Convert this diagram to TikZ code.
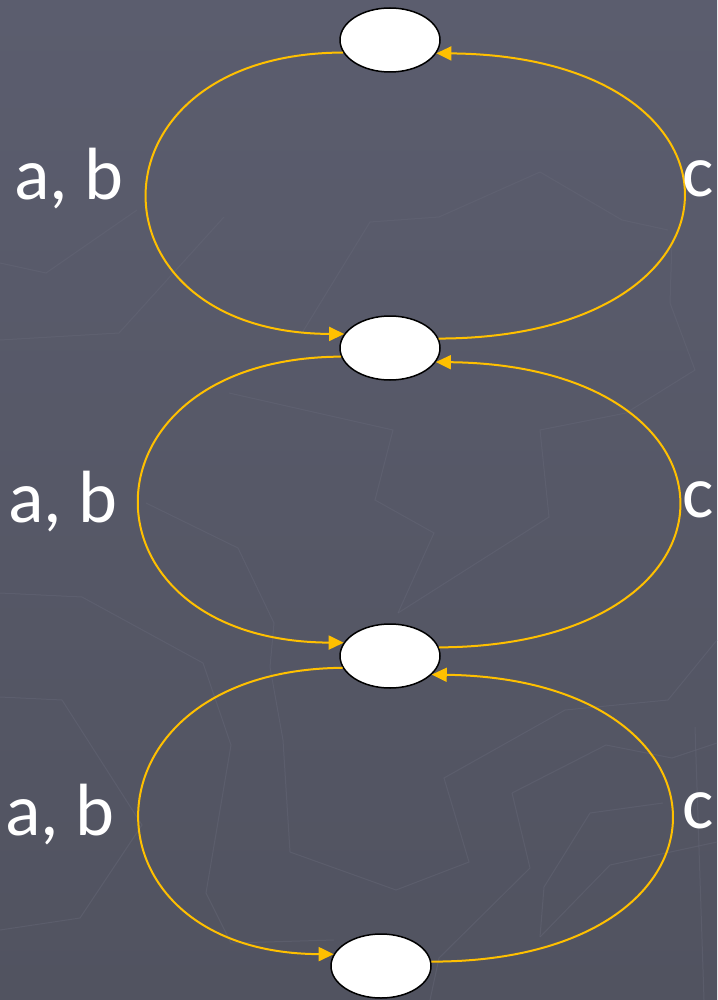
\documentclass[tikz,border=0pt]{standalone}
\usepackage{fontspec}
\setmainfont{Carlito}
\usetikzlibrary{shapes.geometric,arrows.meta}
\definecolor{bgtop}{HTML}{5B5D6E}
\definecolor{bgbot}{HTML}{515360}
\definecolor{gold}{HTML}{FFC000}
\definecolor{faint}{HTML}{666878}
\tikzset{
  state/.style={ellipse,draw=black,fill=white,line width=1.5pt,minimum width=100pt,minimum height=64pt,inner sep=0pt},
  trans/.style={draw=gold,line width=2pt,-{Triangle[length=15pt,width=14pt]}},
  lbl/.style={text=white,font=\fontsize{74}{80}\selectfont,inner sep=0pt},
  deco/.style={draw=faint,line width=1pt,opacity=0.45}
}
\begin{document}
\begin{tikzpicture}[x=1pt,y=-1pt]
\useasboundingbox (0,0) rectangle (717,1000);
\shade[top color=bgtop,bottom color=bgbot] (0,0) rectangle (717,1000);
% faint background polylines
\draw[deco] (540,172) -- (622,220) -- (668,230);
\draw[deco] (540,172) -- (439,217) -- (370,222) -- (302,333);
\draw[deco] (224,217) -- (119,333) -- (0,340);
\draw[deco] (137,210) -- (46,273) -- (0,263);
\draw[deco] (672,240) -- (670,303) -- (695,370) -- (626,413) -- (540,430) -- (549,517) -- (398,613);
\draw[deco] (229,393) -- (393,430) -- (375,500) -- (434,533) -- (398,613);
\draw[deco] (0,593) -- (82,597) -- (203,663) -- (231,745) -- (206,893) -- (231,943) -- (334,940);
\draw[deco] (0,697) -- (62,700) -- (142,825) -- (80,918) -- (0,930);
\draw[deco] (146,503) -- (238,548) -- (274,623) -- (270,667) -- (283,740) -- (290,852) -- (396,890) -- (469,862) -- (444,778) -- (565,710) -- (668,700) -- (717,640);
\draw[deco] (512,793) -- (606,745) -- (672,758) -- (717,743);
\draw[deco] (512,793) -- (530,868) -- (439,958) -- (430,1000);
\draw[deco] (540,937) -- (544,887) -- (590,813) -- (663,803);
\draw[deco] (540,937) -- (610,865) -- (717,842);
\draw[deco] (695,727) -- (704,1000);
% states
\node[state] (s1) at (390,40) {};
\node[state] (s2) at (390,348) {};
\node[state] (s3) at (390,656) {};
\node[state] (s4) at (381,966) {};
% transitions
\draw[trans] (s1.195) .. controls (82,53) and (82,333) .. (s2.163);
\draw[trans] (s2.11) .. controls (765,338) and (765,56) .. (s1.-16);
\draw[trans] (s2.190) .. controls (72,358) and (72,641) .. (s3.164);
\draw[trans] (s3.10) .. controls (759,646) and (759,366) .. (s2.-17);
\draw[trans] (s3.194) .. controls (74,670) and (74,953) .. (s4.166);
\draw[trans] (s4.5) .. controls (751,962) and (751,679) .. (s3.-24);
% labels
\node[lbl,anchor=base west] (ab1) at (14,200) {a, b};
\node[lbl,anchor=base west] (ab2) at (8,522) {a, b};
\node[lbl,anchor=base west] (ab3) at (5,835) {a, b};
\node[lbl,anchor=base west] (c1) at (682,197) {c};
\node[lbl,anchor=base west] (c2) at (682,517) {c};
\node[lbl,anchor=base west] (c3) at (682,828) {c};
\end{tikzpicture}
\end{document}
